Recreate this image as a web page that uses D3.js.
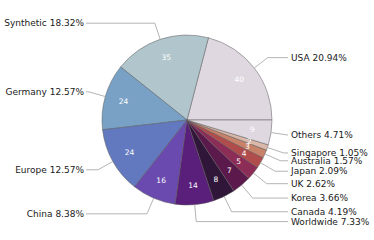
<!DOCTYPE html>
<html>
<head>
<meta charset="utf-8">
<script src="https://cdn.jsdelivr.net/npm/d3@7"></script>
<style>
html,body{margin:0;padding:0;background:#fff;}
svg{display:block;}
text{font-family:"DejaVu Sans",sans-serif;}
</style>
</head>
<body>
<svg id="chart" width="374" height="240"></svg>
<script>
const categories = ["USA","Synthetic","Germany","Europe","China","Worldwide","Canada","Korea","UK","Japan","Australia","Singapore","Others"];
const values = [40,35,24,24,16,14,8,7,5,4,3,2,9];
const colors = ["#e0d8e1","#b1c5cc","#78a1c5","#6279c0","#6a4aae","#5a1e7b","#301638","#5c1a4c","#8c2d57","#b04c4c","#c9826a","#d9b8aa","#e0d8e1"];

const W = 374, H = 240;
const cx = 187, cy = 120, R = 85;
const svg = d3.select("#chart");
const g = svg.append("g").attr("transform", `translate(${cx},${cy})`);

const total = d3.sum(values);
const data = categories.map((c,i)=>({name:c, value:values[i], color:colors[i]}));

const pie = d3.pie().value(d=>d.value).sort(null)
  .startAngle(Math.PI/2).endAngle(Math.PI/2 - 2*Math.PI);
const arcs = pie(data);
const arc = d3.arc().innerRadius(0).outerRadius(R);

g.selectAll("path.slice").data(arcs).join("path")
  .attr("class","slice")
  .attr("d", arc)
  .attr("fill", d=>d.data.color)
  .attr("stroke", "#5a5a5a")
  .attr("stroke-width", 0.5)
  .attr("stroke-linejoin","round");

// inner value labels
const rIn = 66;
g.selectAll("text.val").data(arcs).join("text")
  .attr("class","val")
  .attr("x", d=>{const m=(d.startAngle+d.endAngle)/2; return rIn*Math.sin(m);})
  .attr("y", d=>{const m=(d.startAngle+d.endAngle)/2; return -rIn*Math.cos(m);})
  .attr("dy","0.35em")
  .attr("text-anchor","middle")
  .attr("font-size","7.5px")
  .attr("fill","#ffffff")
  .text(d=>d.data.value);

// leader lines + outer labels
const kText = 1.2;
arcs.forEach(d=>{
  const m = (d.startAngle+d.endAngle)/2;
  const sx = Math.sin(m), sy = -Math.cos(m);
  const right = sx >= 0;
  const p0 = [R*sx, R*sy];
  const p1 = [kText*R*sx, kText*R*sy];
  const lineX = right ? 101 : -101;
  const textX = right ? 104 : -103;
  g.append("path")
    .attr("d", d3.line()([p0, p1, [lineX, p1[1]]]))
    .attr("fill","none")
    .attr("stroke","#ababab")
    .attr("stroke-width",0.9);
  g.append("text")
    .attr("x", textX)
    .attr("y", p1[1])
    .attr("dy","0.35em")
    .attr("text-anchor", right ? "start" : "end")
    .attr("font-size","9px")
    .attr("fill","#1a1a1a")
    .text(`${d.data.name} ${(d.data.value/total*100).toFixed(2)}%`);
});
</script>
</body>
</html>
